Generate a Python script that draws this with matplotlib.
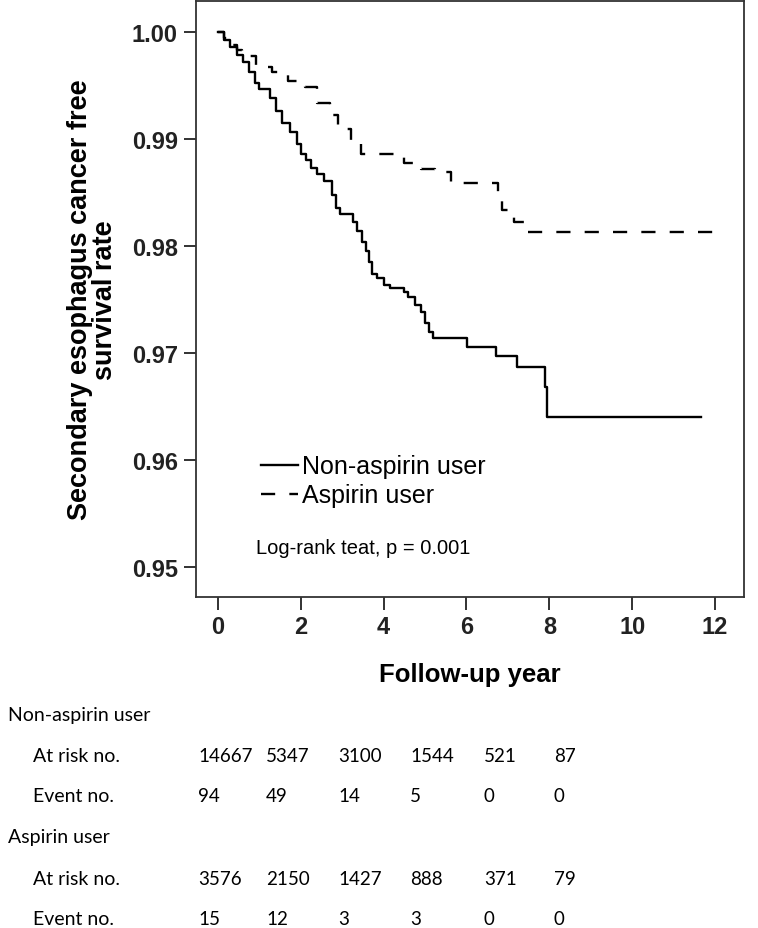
import matplotlib
matplotlib.use("Agg")
import matplotlib.pyplot as plt

# Kaplan-Meier steps (time in years, survival after step)
t_non = [0, 0.15, 0.30, 0.45, 0.60, 0.75, 0.90, 1.00, 1.25, 1.40, 1.55, 1.75, 1.90,
         2.00, 2.12, 2.25, 2.38, 2.55, 2.75, 2.85, 2.95, 3.25, 3.35, 3.48, 3.58, 3.65,
         3.72, 3.85, 4.00, 4.15, 4.50, 4.60, 4.75, 4.90, 5.00, 5.10, 5.20, 6.02, 6.72,
         7.22, 7.90, 7.95, 11.65]
s_non = [1.000, 0.9993, 0.9986, 0.9979, 0.9972, 0.9963, 0.9952, 0.9947, 0.9938, 0.9926,
         0.9915, 0.9907, 0.9895, 0.9886, 0.9880, 0.9873, 0.9867, 0.9861, 0.9848, 0.9836,
         0.9830, 0.9822, 0.9814, 0.9804, 0.9795, 0.9785, 0.9774, 0.9770, 0.9764, 0.9761,
         0.9757, 0.9752, 0.9745, 0.9738, 0.9728, 0.9720, 0.9714, 0.9706, 0.9697, 0.9687,
         0.9668, 0.9640, 0.9640]

t_asp = [0, 0.15, 0.30, 0.45, 0.58, 0.92, 1.30, 1.68, 2.10, 2.38, 2.70, 2.90, 3.20,
         3.45, 4.50, 4.90, 5.25, 5.62, 6.75, 6.85, 7.15, 7.40, 12.00]
s_asp = [1.000, 0.9994, 0.9988, 0.9983, 0.9978, 0.9967, 0.9963, 0.9954, 0.9949, 0.9934,
         0.9922, 0.9909, 0.9897, 0.9886, 0.9878, 0.9872, 0.9869, 0.9859, 0.9850, 0.9834,
         0.9822, 0.9813, 0.9813]

# numbers at risk table
groups = ["Non-aspirin user", "Aspirin user"]
risk_non = [14667, 5347, 3100, 1544, 521, 87]
event_non = [94, 49, 14, 5, 0, 0]
risk_asp = [3576, 2150, 1427, 888, 371, 79]
event_asp = [15, 12, 3, 3, 0, 0]

plt.rcParams['font.family'] = ['Liberation Sans', 'DejaVu Sans']

fig = plt.figure(figsize=(7.58, 9.29), dpi=100)
ax = fig.add_axes([196 / 758, 1 - 598 / 929, 548 / 758, 596 / 929])

ax.plot(t_non, s_non, color='black', lw=1.7, drawstyle='steps-post', label='Non-aspirin user')
ax.plot(t_asp, s_asp, color='black', lw=1.7, drawstyle='steps-post', dashes=(6, 6),
        label='Aspirin user')

ax.set_xlim(-0.53, 12.7)
ax.set_ylim(0.9472, 1.0029)
ax.set_xticks(range(0, 13, 2))
ax.set_yticks([0.95, 0.96, 0.97, 0.98, 0.99, 1.00])
ax.set_yticklabels(['%.2f' % v for v in ax.get_yticks()])
ax.tick_params(direction='out', length=9, width=1.3, labelsize=17, colors='#222222', pad=4)
for lab in ax.get_xticklabels() + ax.get_yticklabels():
    lab.set_fontweight('bold')
for sp in ax.spines.values():
    sp.set_linewidth(1.3)
    sp.set_color('#333333')

ax.set_ylabel('Secondary esophagus cancer free\nsurvival rate', fontsize=19.5,
              fontweight='bold', labelpad=10, linespacing=0.95)
ax.set_xlabel('Follow-up year', fontsize=18.5, fontweight='bold', labelpad=17)

ax.legend(loc='upper left', bbox_to_anchor=(0.1, 0.256), frameon=False, fontsize=18,
          handlelength=1.5, handletextpad=0.15, labelspacing=0.2, borderaxespad=0)
ax.text(0.92, 0.9518, 'Log-rank teat, p = 0.001', fontsize=14.5, va='center', ha='left')

# at-risk table below the plot
tfont = ['Lato', 'DejaVu Sans']
col_x = [198, 266, 338, 410, 484, 554]
rows = [(716, groups[0], None), (757, 'At risk no.', risk_non), (797, 'Event no.', event_non),
        (838, groups[1], None), (880, 'At risk no.', risk_asp), (920, 'Event no.', event_asp)]
for y, name, vals in rows:
    xl = 8 if vals is None else 33
    fig.text(xl / 758, 1 - y / 929, name, fontsize=14, family=tfont, va='center', ha='left')
    if vals is not None:
        for cx, v in zip(col_x, vals):
            fig.text(cx / 758, 1 - y / 929, str(v), fontsize=13.5, family=tfont,
                     va='center', ha='left')

fig.savefig('out.png', dpi=100)
